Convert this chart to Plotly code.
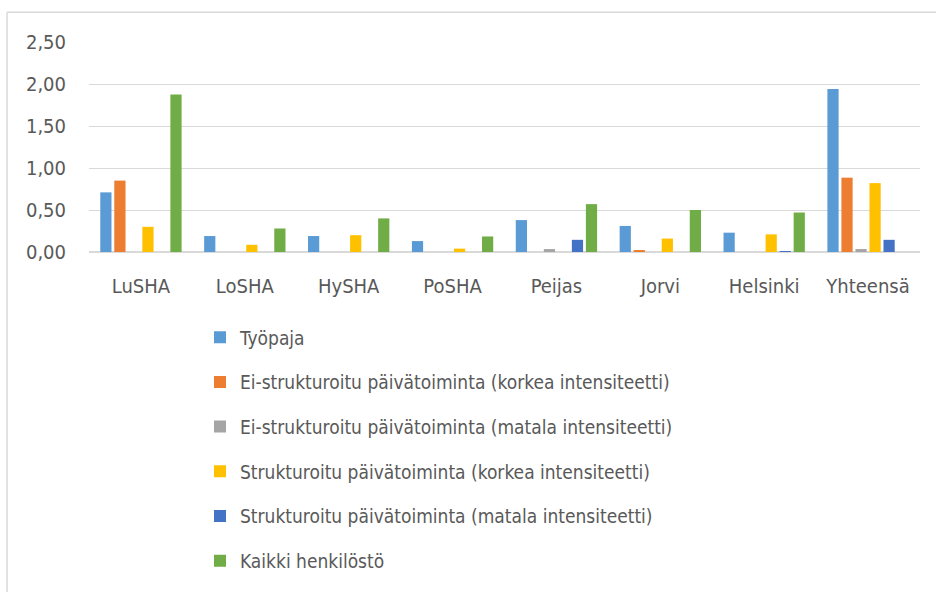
import plotly.graph_objects as go

categories = ["LuSHA", "LoSHA", "HySHA", "PoSHA", "Peijas", "Jorvi", "Helsinki", "Yhteensä"]

series_names = [
    "Työpaja",
    "Ei-strukturoitu päivätoiminta (korkea intensiteetti)",
    "Ei-strukturoitu päivätoiminta (matala intensiteetti)",
    "Strukturoitu päivätoiminta (korkea intensiteetti)",
    "Strukturoitu päivätoiminta (matala intensiteetti)",
    "Kaikki henkilöstö",
]

tyopaja = [0.71, 0.19, 0.19, 0.13, 0.38, 0.31, 0.23, 1.94]
ei_strukt_korkea = [0.85, 0.0, 0.0, 0.0, 0.0, 0.02, 0.0, 0.885]
ei_strukt_matala = [0.0, 0.0, 0.0, 0.0, 0.035, 0.0, 0.0, 0.035]
strukt_korkea = [0.30, 0.086, 0.20, 0.04, 0.0, 0.16, 0.21, 0.82]
strukt_matala = [0.0, 0.0, 0.0, 0.0, 0.145, 0.0, 0.01, 0.145]
kaikki = [1.875, 0.28, 0.40, 0.185, 0.57, 0.50, 0.47, 0.0]

colors = ["#5B9BD5", "#ED7D31", "#A5A5A5", "#FFC000", "#4472C4", "#70AD47"]
values = [tyopaja, ei_strukt_korkea, ei_strukt_matala, strukt_korkea, strukt_matala, kaikki]

y_tickvals = [0, 0.5, 1.0, 1.5, 2.0, 2.5]

FONT = "Liberation Sans Narrow, Arial Narrow, DejaVu Sans Condensed, sans-serif"
TXT = "#595959"

fig = go.Figure()
for i, (name, vals, col) in enumerate(zip(series_names, values, colors)):
    fig.add_trace(go.Bar(
        x=categories, y=vals, name=name, marker_color=col,
        marker_line_width=0, legendgroup=f"g{i}",
    ))

W, H = 936, 592
L, R, T, B = 89, 16, 42, 338
pw, ph = W - L - R, H - T - B

def px_x(p):
    return (p - L) / pw

def px_y(p):
    return (H - B - p) / ph

border = "#D9D9D9"
fig.add_shape(type="line", xref="paper", yref="paper",
              x0=px_x(7), x1=px_x(7), y0=px_y(12), y1=px_y(600),
              line=dict(color=border, width=1.5))
fig.add_shape(type="line", xref="paper", yref="paper",
              x0=px_x(7), x1=px_x(940), y0=px_y(12), y1=px_y(12),
              line=dict(color=border, width=1.5))

fig.update_layout(
    width=W, height=H,
    margin=dict(l=L, r=R, t=T, b=B),
    paper_bgcolor="white", plot_bgcolor="white",
    barmode="group", bargap=0.19, bargroupgap=0.2,
    separators=", ",
    font=dict(family=FONT, size=19, color=TXT),
    showlegend=True,
    legend=dict(
        x=px_x(200), xanchor="left",
        y=px_y(321), yanchor="top",
        font=dict(family=FONT, size=19, color=TXT),
        tracegroupgap=17,
        traceorder="grouped",
        bgcolor="rgba(0,0,0,0)",
    ),
    xaxis=dict(
        showgrid=False, showline=False, zeroline=False,
        ticks="outside", ticklen=16, tickcolor="rgba(0,0,0,0)",
        tickfont=dict(family=FONT, size=20, color=TXT),
    ),
    yaxis=dict(
        range=[0, 2.5], tickvals=y_tickvals, tickformat=".2f",
        showgrid=True, gridcolor="#D9D9D9", gridwidth=1,
        zeroline=True, zerolinecolor="#D9D9D9", zerolinewidth=1.5,
        showline=False,
        ticks="outside", ticklen=18, tickcolor="rgba(0,0,0,0)",
        tickfont=dict(family=FONT, size=20, color=TXT),
    ),
)

fig.write_html("out.html", config={"displayModeBar": False},
               post_script="document.body.style.margin='0';")
